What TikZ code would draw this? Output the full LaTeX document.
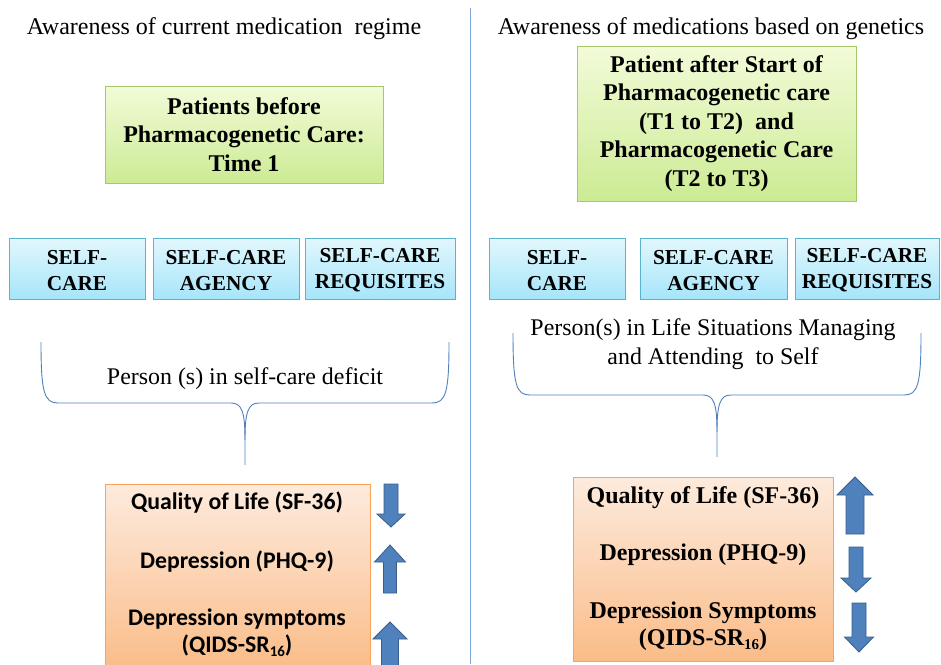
\documentclass[tikz,border=0pt]{standalone}
\usepackage{fontspec}
\setmainfont{Liberation Serif}
\newfontfamily\calfont{Carlito}
\definecolor{divblue}{HTML}{7BA7DC}
\definecolor{bracecol}{HTML}{4F81BD}
\definecolor{greenTop}{HTML}{F2FBD8}
\definecolor{greenBot}{HTML}{CCEB94}
\definecolor{greenLine}{HTML}{A6C86A}
\definecolor{blueTop}{HTML}{E2F7FD}
\definecolor{blueBot}{HTML}{A6E5FA}
\definecolor{blueLine}{HTML}{5AB4CF}
\definecolor{orTop}{HTML}{FDEBDD}
\definecolor{orBot}{HTML}{FABC88}
\definecolor{orLine}{HTML}{F7A35C}
\definecolor{arrFill}{HTML}{4F81BD}
\definecolor{arrLine}{HTML}{385D8A}
\newcommand\vArrow[6]{%
  \filldraw[arrowsty] ({#1-#6/2},#2) -- ({#1-#6/2},#3) -- ({#1-#5/2},#3) -- (#1,#4)
    -- ({#1+#5/2},#3) -- ({#1+#6/2},#3) -- ({#1+#6/2},#2) -- cycle;}
\tikzset{
  title/.style={font=\fontsize{24}{28}\selectfont, inner sep=0pt},
  greenbox/.style={draw=greenLine, line width=0.8pt, top color=greenTop, bottom color=greenBot,
     align=center, font=\fontsize{24}{28.5}\selectfont\bfseries, inner sep=0pt},
  bluebox/.style={draw=blueLine, line width=0.8pt, top color=blueTop, bottom color=blueBot,
     align=center, font=\fontsize{21.3}{26}\selectfont\bfseries, inner sep=0pt, minimum height=61pt},
  bluetxt/.style={align=center, font=\fontsize{21.3}{26}\selectfont\bfseries, inner sep=0pt},
  orbox/.style={draw=orLine, line width=0.8pt, top color=orTop, bottom color=orBot, inner sep=0pt},
  lefttxt/.style={font=\calfont\fontsize{23.8}{27}\selectfont\bfseries, align=center, inner sep=0pt},
  righttxt/.style={font=\fontsize{24}{27}\selectfont\bfseries, align=center, inner sep=0pt},
  bracetxt/.style={font=\fontsize{23.9}{29}\selectfont, align=center, inner sep=0pt},
  brace/.style={draw=bracecol, line width=0.9pt},
  arrowsty/.style={fill=arrFill, draw=arrLine, line width=0.8pt, line join=miter},
}
\begin{document}
\begin{tikzpicture}[x=1pt,y=-1pt]
\useasboundingbox (0,0) rectangle (941,664);
\clip (0,0) rectangle (941,664);
% divider
\draw[divblue, line width=1.3pt] (470.5,8) -- (470.5,664);
% titles
\node[title] (tl) at (224,28.5) {Awareness of current medication\ \ regime};
\node[title] (tr) at (711,28.5) {Awareness of medications based on genetics};
% green boxes
\node[greenbox, minimum width=278pt, minimum height=97pt] (gl) at (244,134.5)
  {Patients before\\Pharmacogenetic Care:\\Time 1};
\node[greenbox, minimum width=279pt, minimum height=155pt] (gr) at (716.5,123.5)
  {Patient after Start of\\Pharmacogenetic care\\(T1 to T2)\ \ and\\Pharmacogenetic Care\\(T2 to T3)};
% blue boxes
\node[bluebox, minimum width=136pt] (b1) at (77,268.5) {};
\node[bluebox, minimum width=146pt] (b2) at (226,268.5) {};
\node[bluebox, minimum width=150pt] (b3) at (380,268.5) {};
\node[bluebox, minimum width=136pt] (b4) at (557,268.5) {};
\node[bluebox, minimum width=147pt] (b5) at (713.5,268.5) {};
\node[bluebox, minimum width=144pt] (b6) at (867,268.5) {};
\node[bluetxt] (t1) at ([yshift=-2pt]b1.center) {SELF-\\CARE};
\node[bluetxt] (t2) at ([yshift=-2pt]b2.center) {SELF-CARE\\AGENCY};
\node[bluetxt] (t3) at ([yshift=-2pt]b3.center) {SELF-CARE\\REQUISITES};
\node[bluetxt] (t4) at ([yshift=-2pt]b4.center) {SELF-\\CARE};
\node[bluetxt] (t5) at ([yshift=-2pt]b5.center) {SELF-CARE\\AGENCY};
\node[bluetxt] (t6) at ([yshift=-2pt]b6.center) {SELF-CARE\\REQUISITES};
% braces
\draw[brace] (41,342) .. controls (41,392) and (44,403) .. (58,403) -- (231,403)
  .. controls (242,403) and (245,412) .. (245,440) -- (245,465);
\draw[brace] (449,342) .. controls (449,392) and (446,403) .. (432,403) -- (259,403)
  .. controls (248,403) and (245,412) .. (245,440);
\node[bracetxt] (pl) at (245,379) {Person (s) in self-care deficit};
\draw[brace] (513,333) .. controls (513,385) and (516,395) .. (530,395) -- (703,395)
  .. controls (714,395) and (717,404) .. (717,432) -- (717,457);
\draw[brace] (921,333) .. controls (921,385) and (918,395) .. (904,395) -- (731,395)
  .. controls (720,395) and (717,404) .. (717,432);
\node[bracetxt] (pr) at (713,344.5) {Person(s) in Life Situations Managing\\and Attending\ \ to Self};
% orange boxes
\node[orbox, minimum width=265pt, minimum height=186pt] (ol) at (237.5,577) {};
\node[orbox, minimum width=260pt, minimum height=184pt] (or) at (703,569) {};
\node[lefttxt] (l1) at (237,503) {Quality of Life (SF-36)};
\node[lefttxt] (l2) at (237,562) {Depression (PHQ-9)};
\node[lefttxt] (l3) at (237,632.5) {Depression symptoms\\(QIDS-SR\raisebox{-0.35ex}{\fontsize{15}{15}\selectfont 16})};
\node[righttxt] (r1) at (703,498) {Quality of Life (SF-36)};
\node[righttxt] (r2) at (703,555) {Depression (PHQ-9)};
\node[righttxt] (r3) at (703,626.5) {Depression Symptoms\\(QIDS-SR\raisebox{-0.35ex}{\fontsize{15}{15}\selectfont 16})};
% arrows
\vArrow{391}{484}{514}{527}{28}{14}
\vArrow{390}{593}{562}{545}{31}{13}
\vArrow{390}{672}{639}{622}{34}{17}
\vArrow{855}{534}{495}{477}{36}{18}
\vArrow{856}{547}{578}{592}{30}{14}
\vArrow{859}{603}{637}{652}{29}{14}
\end{tikzpicture}
\end{document}
